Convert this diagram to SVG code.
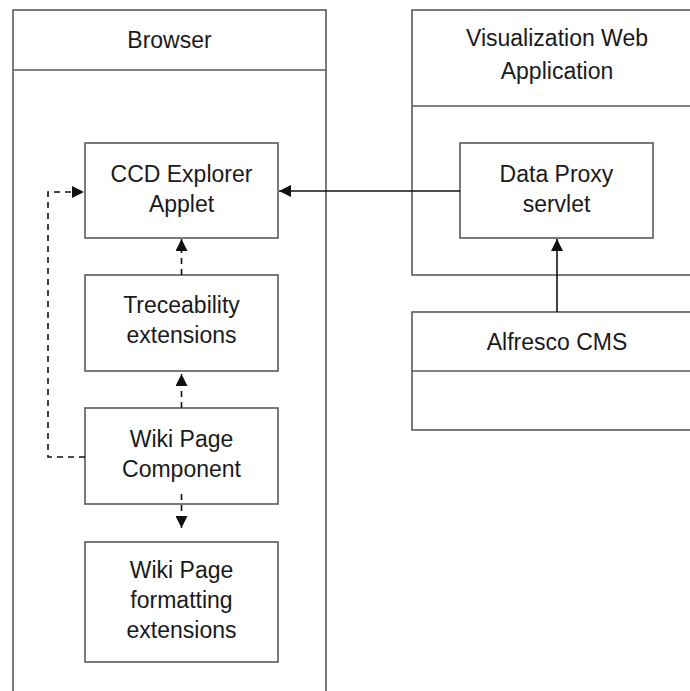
<svg xmlns="http://www.w3.org/2000/svg" width="690" height="691" viewBox="0 0 690 691">
<style>
.box{fill:#fff;stroke:#5a5a5a;stroke-width:1.6}
.ln{fill:none;stroke:#5a5a5a;stroke-width:1.6}
.t{font-family:"Liberation Sans",Arial,sans-serif;font-size:23px;fill:#1a1a1a;text-anchor:middle}
.c{fill:none;stroke:#111;stroke-width:1.6}
.d{stroke-dasharray:6 5}
</style>
<defs>
<marker id="ah" viewBox="0 0 12 12" refX="12" refY="6" markerWidth="12" markerHeight="12" markerUnits="userSpaceOnUse" orient="auto">
<path d="M0,0 L12,6 L0,12 z" fill="#111"/>
</marker>
</defs>
<rect width="690" height="691" fill="#fff"/>
<g id="browser">
<rect class="box" x="13" y="10" width="313" height="700"/>
<line class="ln" x1="13" y1="70" x2="326" y2="70"/>
<text class="t" x="169.5" y="48">Browser</text>
</g>
<g id="visapp">
<rect class="box" x="412" y="10" width="300" height="265"/>
<line class="ln" x1="412" y1="106" x2="712" y2="106"/>
<text class="t" x="557" y="46">Visualization Web</text>
<text class="t" x="557" y="79">Application</text>
</g>
<g id="alfresco">
<rect class="box" x="412" y="312" width="300" height="118"/>
<line class="ln" x1="412" y1="371" x2="712" y2="371"/>
<text class="t" x="557" y="350">Alfresco CMS</text>
</g>
<g id="ccd">
<rect class="box" x="85" y="143" width="193" height="95"/>
<text class="t" x="181.5" y="182">CCD Explorer</text>
<text class="t" x="181.5" y="212">Applet</text>
</g>
<g id="proxy">
<rect class="box" x="460" y="143" width="193" height="95"/>
<text class="t" x="556.5" y="182">Data Proxy</text>
<text class="t" x="556.5" y="212">servlet</text>
</g>
<g id="trace">
<rect class="box" x="85" y="275" width="193" height="96"/>
<text class="t" x="181.5" y="313">Treceability</text>
<text class="t" x="181.5" y="343">extensions</text>
</g>
<g id="wikicomp">
<rect class="box" x="85" y="408" width="193" height="96"/>
<text class="t" x="181.5" y="447">Wiki Page</text>
<text class="t" x="181.5" y="477">Component</text>
</g>
<g id="wikifmt">
<rect class="box" x="85" y="542" width="193" height="120"/>
<text class="t" x="181.5" y="578">Wiki Page</text>
<text class="t" x="181.5" y="608">formatting</text>
<text class="t" x="181.5" y="638">extensions</text>
</g>
<g id="connectors">
<line class="c" x1="460" y1="191" x2="279" y2="191" marker-end="url(#ah)"/>
<line class="c" x1="557" y1="312" x2="557" y2="239" marker-end="url(#ah)"/>
<line class="c d" x1="181.5" y1="275" x2="181.5" y2="239" marker-end="url(#ah)"/>
<line class="c d" x1="181.5" y1="408" x2="181.5" y2="374" marker-end="url(#ah)"/>
<line class="c d" x1="181.5" y1="494" x2="181.5" y2="528" marker-end="url(#ah)"/>
<polyline class="c d" points="85,457 48,457 48,192 84,192" marker-end="url(#ah)"/>
</g>
</svg>
